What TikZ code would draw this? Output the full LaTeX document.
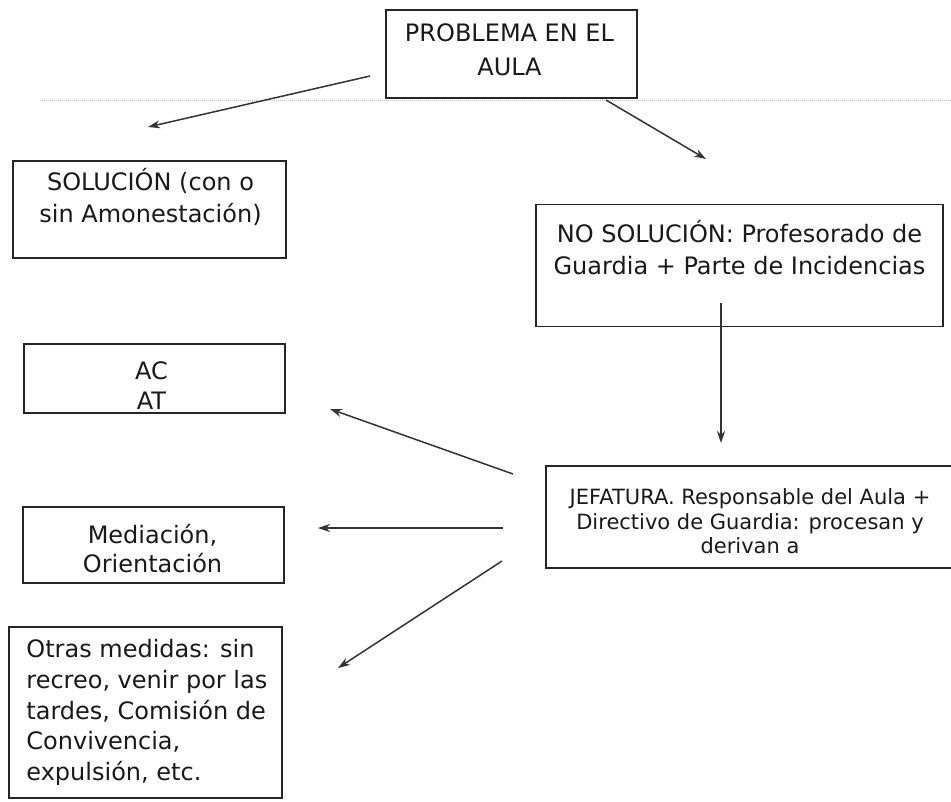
\documentclass[tikz,border=0pt]{standalone}
\usepackage{fontspec}
\setmainfont{DejaVu Sans}
\usetikzlibrary{positioning,calc,arrows.meta}

\begin{document}
\begin{tikzpicture}[x=1pt, y=-1pt,
    box/.style={draw=black!85, line width=1.6pt, inner sep=0pt},
    txt/.style={align=center, inner sep=0pt, text=black!90, font=\fontsize{24}{32}\selectfont},
    arr/.style={-{Stealth[length=12pt,width=8pt]}, draw=black!80, line width=1.5pt}]
    \useasboundingbox (0,0) rectangle (951,801);
    \draw[black!25, densely dotted, line width=1pt] (40,100) -- (951,100);

    \node[box, minimum width=251pt, minimum height=88pt] (prob) at (511.5,54) {};
    \node[box, minimum width=273pt, minimum height=97pt] (sol) at (149.5,209.5) {};
    \node[box, minimum width=407pt, minimum height=122pt] (nosol) at (739.5,265.5) {};
    \node[box, minimum width=261pt, minimum height=69pt] (acat) at (154.5,378.5) {};
    \node[box, minimum width=414pt, minimum height=102pt] (jef) at (753,517) {};
    \node[box, minimum width=261pt, minimum height=76pt] (med) at (153.5,545) {};
    \node[box, minimum width=273pt, minimum height=171pt] (otras) at (145.5,712.5) {};

    \node[txt] (probtxt) at (prob) [xshift=-2pt, yshift=4pt] {PROBLEMA EN EL\\[2pt]AULA};
    \node[txt] (soltxt) at (sol) [xshift=1pt, yshift=12.5pt] {SOLUCIÓN (con o\\sin Amonestación)};
    \node[txt] (nosoltxt) at (nosol) [yshift=18pt] {NO SOLUCIÓN: Profesorado de\\Guardia + Parte de Incidencias};
    \node[txt, font=\fontsize{24}{30}\selectfont] (acattxt) at (acat) [xshift=-3pt, yshift=-7.5pt] {AC\\AT};
    \node[txt, font=\fontsize{21}{24.5}\selectfont] (jeftxt) at (jef) [xshift=-3pt, yshift=-4.5pt] {JEFATURA. Responsable del Aula +\\Directivo de Guardia: procesan y\\derivan a};
    \node[txt, font=\fontsize{24}{29}\selectfont] (medtxt) at (med) [xshift=-1pt, yshift=-4pt] {Mediación,\\Orientación};
    \node[txt, align=left, anchor=west, font=\fontsize{24}{30.75}\selectfont] (otrastxt) at ([xshift=18pt]otras.west) {Otras medidas: sin\\recreo, venir por las\\tardes, Comisión de\\Convivencia,\\expulsión, etc.};

    \coordinate (probW) at (370,76);
    \coordinate (solN) at (148,127);
    \coordinate (probS) at (606,100);
    \coordinate (nosolN) at (706,159);
    \coordinate (nosolS) at (721,303);
    \coordinate (jefN) at (721,443);
    \coordinate (jefW1) at (513,474);
    \coordinate (acatE) at (330,409);
    \coordinate (jefW2) at (503,528);
    \coordinate (medE) at (318,528);
    \coordinate (jefW3) at (502,561);
    \coordinate (otrasE) at (338,668);

    \draw[arr] (probW) -- (solN);
    \draw[arr] (probS) -- (nosolN);
    \draw[arr] (nosolS) -- (jefN);
    \draw[arr] (jefW1) -- (acatE);
    \draw[arr] (jefW2) -- (medE);
    \draw[arr] (jefW3) -- (otrasE);
\end{tikzpicture}
\end{document}
